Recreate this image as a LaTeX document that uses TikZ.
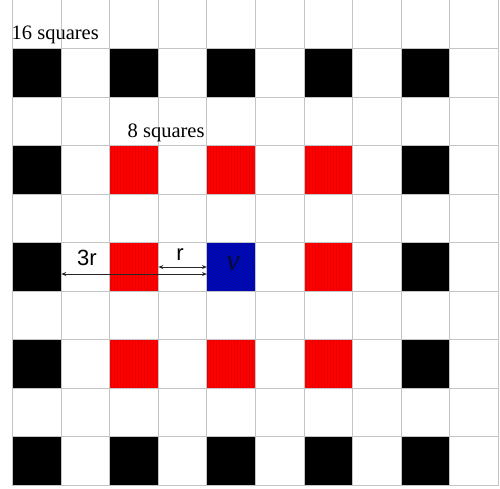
\documentclass[tikz,border=0pt]{standalone}
\usepackage{fontspec}
\setmainfont{Liberation Serif}
\newfontfamily\arialfont{Liberation Sans}
\usetikzlibrary{patterns,arrows.meta}
\definecolor{gridgray}{HTML}{C4C4C4}
\definecolor{hatchred}{HTML}{E60000}
\definecolor{cellblue}{HTML}{0008C8}
\definecolor{hatchblue}{HTML}{000A80}
\definecolor{vtext}{HTML}{0A0A30}
\begin{document}
\begin{tikzpicture}[x=1pt,y=-1pt,
  cellbox/.style={minimum size=48.55pt,inner sep=0pt,outer sep=0pt,anchor=north west},
  blackcell/.style={cellbox,fill=black},
  redcell/.style={cellbox,fill=red,postaction={pattern=vertical lines,pattern color=hatchred}},
  bluecell/.style={cellbox,fill=cellblue,postaction={pattern=north east lines,pattern color=hatchblue}},
  gridline/.style={draw=gridgray,line width=1pt},
  serlabel/.style={font=\fontsize{20.5}{24}\selectfont,inner sep=0pt,anchor=base west},
  sanslabel/.style={font=\arialfont\fontsize{22}{26}\selectfont,inner sep=0pt},
  measure/.style={draw=black!85,line width=0.9pt,{Stealth[length=5pt,width=4pt]}-{Stealth[length=5pt,width=4pt]}}
]
\useasboundingbox (0,0) rectangle (500,488);
\def\cs{48.55}
\def\xo{12.7}
% black rows
\foreach \j in {1,9}{
  \foreach \i in {0,2,4,6,8}{
    \node[blackcell] (c-\i-\j) at ({\xo+\i*\cs},{\j*\cs}) {};
  }
}
\foreach \j in {3,5,7}{
  \foreach \i in {0,8}{
    \node[blackcell] (c-\i-\j) at ({\xo+\i*\cs},{\j*\cs}) {};
  }
}
\foreach \j in {3,7}{
  \foreach \i in {2,4,6}{
    \node[redcell] (c-\i-\j) at ({\xo+\i*\cs},{\j*\cs}) {};
  }
}
\node[redcell] (c-2-5) at ({\xo+2*\cs},{5*\cs}) {};
\node[redcell] (c-6-5) at ({\xo+6*\cs},{5*\cs}) {};
\node[bluecell] (c-4-5) at ({\xo+4*\cs},{5*\cs}) {};
% grid
\foreach \i in {0,...,10}{
  \draw[gridline] ({\xo+\i*\cs},0) -- ({\xo+\i*\cs},{10*\cs});
}
\foreach \j in {1,...,10}{
  \draw[gridline] (\xo,{\j*\cs}) -- ({\xo+10*\cs},{\j*\cs});
}
% labels
\node[serlabel] (lab16) at (11.5,39.5) {16 squares};
\node[serlabel] (lab8) at (127.5,137.5) {8 squares};
\node[font=\fontsize{30}{34}\selectfont,text=vtext,inner sep=0pt] (labv) at (233,264) {\textit{v}};
% arrows
\draw[measure] ([yshift=-7pt]c-0-5.east) -- ([yshift=-7pt]c-4-5.west);
\draw[measure] (c-2-5.east) -- (c-4-5.west);
\node[sanslabel] (lab3r) at (87,258) {3r};
\node[sanslabel] (labr) at (180,254.5) {r};
\end{tikzpicture}
\end{document}
